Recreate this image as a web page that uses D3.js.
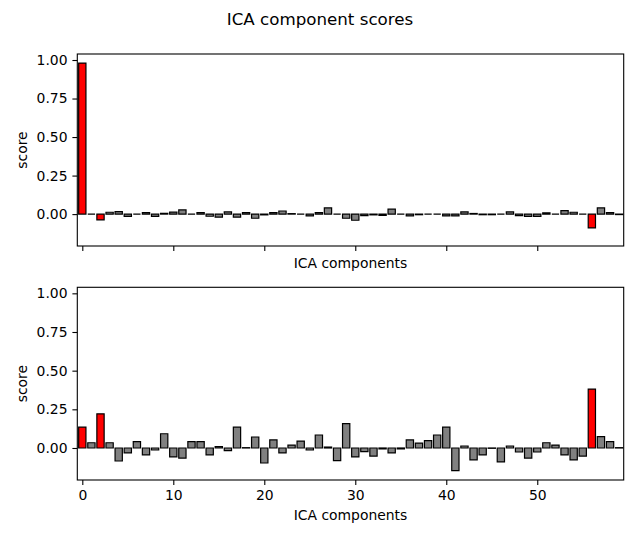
<!DOCTYPE html>
<html>
<head>
<meta charset="utf-8">
<script src="https://cdn.jsdelivr.net/npm/d3@7"></script>
<style>
body { margin: 0; background: #fff; }
svg { display: block; font-family: "DejaVu Sans", sans-serif; }
</style>
</head>
<body>
<svg id="chart" width="640" height="540"></svg>
<script>
const components = d3.range(60);
const excluded = [0, 2, 56];
const scoresTop = [0.98, 0.0, -0.038, 0.012, 0.016, -0.015, 0.0, 0.01, -0.015, 0.005,
  0.013, 0.027, 0.0, 0.01, -0.014, -0.02, 0.014, -0.02, 0.01, -0.027,
  -0.005, 0.01, 0.02, 0.003, 0.0, -0.012, 0.01, 0.04, 0.0, -0.027,
  -0.04, -0.01, -0.005, -0.008, 0.032, 0.0, -0.012, -0.004, 0.0, 0.0,
  -0.012, -0.012, 0.014, 0.004, -0.004, -0.004, 0.0, 0.014, -0.01, -0.015,
  -0.015, 0.008, 0.0, 0.022, 0.012, 0.0, -0.09, 0.04, 0.01, -0.003];
const scoresBottom = [0.135, 0.034, 0.221, 0.034, -0.084, -0.032, 0.041, -0.045, -0.013, 0.092,
  -0.058, -0.065, 0.041, 0.041, -0.045, 0.009, -0.017, 0.135, 0.002, 0.071,
  -0.097, 0.052, -0.032, 0.019, 0.045, -0.013, 0.084, 0.006, -0.082, 0.157,
  -0.058, -0.024, -0.052, -0.006, -0.032, -0.006, 0.052, 0.032, 0.047, 0.084,
  0.135, -0.146, 0.013, -0.077, -0.045, -0.002, -0.09, 0.013, -0.026, -0.065,
  -0.026, 0.034, 0.019, -0.045, -0.077, -0.052, 0.381, 0.073, 0.041, 0.002];
const yTicks = [0, 0.25, 0.5, 0.75, 1.0];
const xTicks = [0, 10, 20, 30, 40, 50];
const title = "ICA component scores";
const xLabel = "ICA components";
const yLabel = "score";

const svg = d3.select("#chart");
const left = 77.3, right = 623.7;
const panels = [
  { data: scoresTop, top: 54, bottom: 246, showXTickLabels: false },
  { data: scoresBottom, top: 287.3, bottom: 480, showXTickLabels: true }
];

svg.append("text").attr("x", 320).attr("y", 25).attr("text-anchor", "middle")
  .attr("font-size", "16.7px").text(title);

const x = d3.scaleLinear().domain([-0.55, 59.5]).range([left, right]);
const bw = x(0.8) - x(0);

panels.forEach(p => {
  const y = d3.scaleLinear().domain([-0.207, 1.039]).range([p.bottom, p.top]);
  const g = svg.append("g");
  g.selectAll("path.bar").data(components).join("path")
    .attr("class", "bar")
    .attr("d", i => {
      const x0 = x(i) - bw / 2, x1 = x(i) + bw / 2;
      const y0 = y(0), y1 = y(p.data[i]);
      return `M${x0},${y0}H${x1}V${y1}H${x0}Z`;
    })
    .attr("fill", i => excluded.includes(i) ? "#ff0000" : "#808080")
    .attr("stroke", "#000").attr("stroke-width", 1.2);

  const xAxis = d3.axisBottom(x).tickValues(xTicks).tickSizeOuter(0).tickSize(4.9).tickPadding(4.9)
    .tickFormat(p.showXTickLabels ? d3.format("d") : () => "");
  const gx = g.append("g").attr("transform", `translate(0,${p.bottom})`).call(xAxis);
  gx.select(".domain").remove();
  const yAxis = d3.axisLeft(y).tickValues(yTicks).tickSizeOuter(0).tickSize(4.9).tickPadding(4.9)
    .tickFormat(d3.format(".2f"));
  const gy = g.append("g").attr("transform", `translate(${left},0)`).call(yAxis);
  gy.select(".domain").remove();
  [gx, gy].forEach(a => {
    a.selectAll("text").attr("font-size", "13.9px").attr("font-family", "DejaVu Sans, sans-serif").attr("fill", "#000");
    a.selectAll("line").attr("stroke", "#000").attr("stroke-width", 1.1);
  });
  g.append("rect").attr("x", left).attr("y", p.top).attr("width", right - left)
    .attr("height", p.bottom - p.top).attr("fill", "none").attr("stroke", "#000").attr("stroke-width", 1.1);

  g.append("text").attr("x", (left + right) / 2).attr("y", p.showXTickLabels ? p.bottom + 40 : p.bottom + 22)
    .attr("text-anchor", "middle").attr("font-size", "13.9px").text(xLabel);
  g.append("text").attr("transform", `translate(27,${(p.top + p.bottom) / 2}) rotate(-90)`)
    .attr("text-anchor", "middle").attr("font-size", "13.9px").text(yLabel);
});
</script>
</body>
</html>
